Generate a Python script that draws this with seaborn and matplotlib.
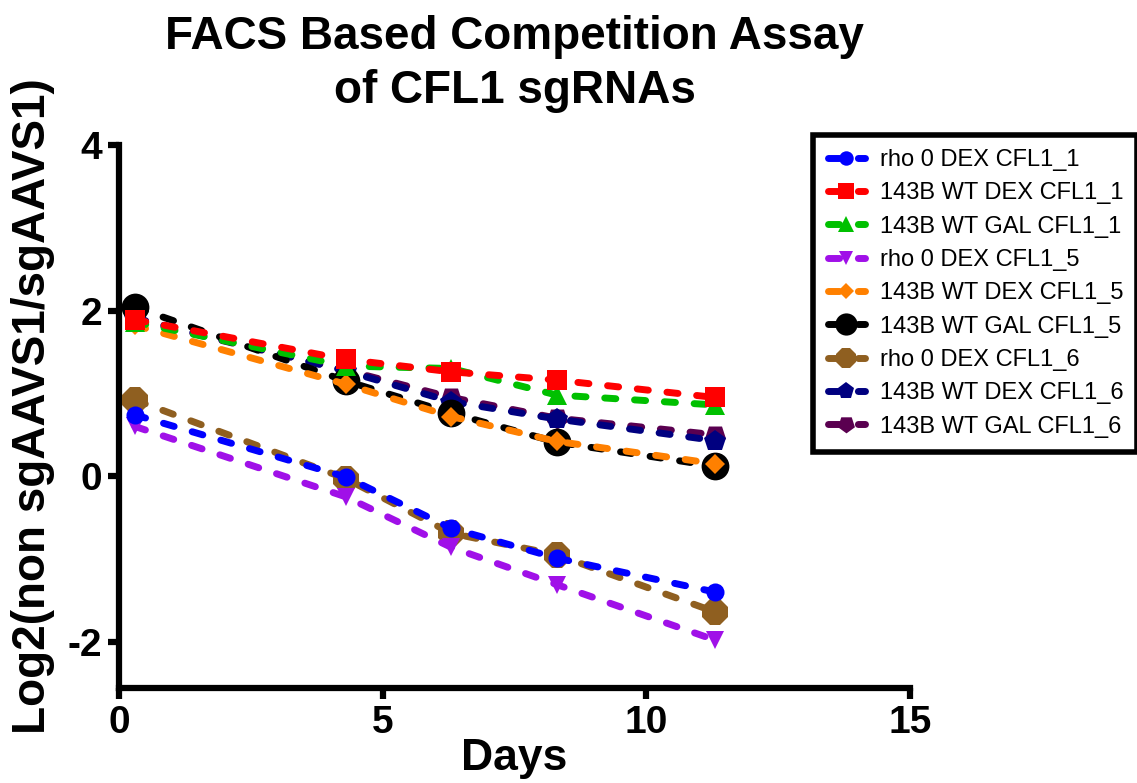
import numpy as np
import pandas as pd
import matplotlib
matplotlib.use("Agg")
import matplotlib.pyplot as plt
import seaborn as sns

# ---- data ----
days = [0.3, 4.3, 6.3, 8.3, 11.3]
series_names = [
    "rho 0 DEX CFL1_1",
    "143B WT DEX CFL1_1",
    "143B WT GAL CFL1_1",
    "rho 0 DEX CFL1_5",
    "143B WT DEX CFL1_5",
    "143B WT GAL CFL1_5",
    "rho 0 DEX CFL1_6",
    "143B WT DEX CFL1_6",
    "143B WT GAL CFL1_6",
]
rho0_dex_1 = [0.74, -0.01, -0.63, -0.99, -1.40]
wt_dex_1 = [1.89, 1.41, 1.26, 1.16, 0.95]
wt_gal_1 = [1.86, 1.33, 1.30, 0.98, 0.86]
rho0_dex_5 = [0.60, -0.25, -0.86, -1.31, -1.98]
wt_dex_5 = [1.82, 1.11, 0.72, 0.42, 0.15]
wt_gal_5 = [2.04, 1.15, 0.76, 0.41, 0.12]
rho0_dex_6 = [0.92, -0.03, -0.69, -0.95, -1.64]
wt_dex_6 = [1.91, 1.27, 0.90, 0.69, 0.43]
wt_gal_6 = [1.89, 1.28, 0.95, 0.70, 0.50]
values = [rho0_dex_1, wt_dex_1, wt_gal_1, rho0_dex_5, wt_dex_5,
          wt_gal_5, rho0_dex_6, wt_dex_6, wt_gal_6]

colors = ["#0000FF", "#FF0000", "#00C000", "#A010E8", "#FF8000",
          "#000000", "#8F5F20", "#000080", "#5A0050"]
markers = ["o", "s", "^", "v", "D", "o", "8", "p", (5, 0, 180)]
msizes = [13, 14, 14, 13, 10, 20, 20, 16, 16]

x_ticks = [0, 5, 10, 15]
y_ticks = [-2, 0, 2, 4]

rows = []
for name, vals in zip(series_names, values):
    for d, v in zip(days, vals):
        rows.append({"Days": d, "value": v, "series": name})
df = pd.DataFrame(rows)

# ---- style ----
sns.set_style("ticks")
plt.rcParams["font.family"] = ["Liberation Sans", "DejaVu Sans"]
plt.rcParams["axes.unicode_minus"] = False
plt.rcParams["text.color"] = "black"
plt.rcParams["axes.labelcolor"] = "black"
plt.rcParams["xtick.color"] = "black"
plt.rcParams["ytick.color"] = "black"

fig = plt.figure(figsize=(11.37, 7.83), dpi=100)
ax = fig.add_axes([0.1047, 0.1213, 0.6956, 0.6935])

for i, name in enumerate(series_names):
    sub = df[df["series"] == name]
    sns.lineplot(data=sub, x="Days", y="value", ax=ax, color=colors[i],
                 marker=markers[i], markersize=msizes[i],
                 markeredgewidth=0, linewidth=5,
                 linestyle=(0, (1.6, 2.7)), dash_capstyle="round",
                 errorbar=None, label=name, zorder=20 - i)

ax.set_xlim(0, 15)
ax.set_ylim(-2.56, 4)
ax.set_xticks(x_ticks)
ax.set_yticks(y_ticks)
ax.set_xticklabels([str(t) for t in x_ticks])
ax.set_yticklabels([str(t) for t in y_ticks])
for s in ["top", "right"]:
    ax.spines[s].set_visible(False)
for s in ["left", "bottom"]:
    ax.spines[s].set_linewidth(4.5)
    ax.spines[s].set_color("black")
ax.tick_params(axis="both", length=8, width=4.5, color="black",
               labelcolor="black", labelsize=28, pad=4)
for lab in ax.get_xticklabels() + ax.get_yticklabels():
    lab.set_fontweight("bold")

ax.set_xlabel("Days", fontsize=32, fontweight="bold", labelpad=-2,
              color="black")
ax.set_ylabel("Log2(non sgAAVS1/sgAAVS1)", fontsize=33, fontweight="bold",
              labelpad=6, color="black")
ax.yaxis.set_label_coords(-0.081, 0.52)
ax.set_title("FACS Based Competition Assay\nof CFL1 sgRNAs", fontsize=33,
             fontweight="bold", pad=30, linespacing=1.3, color="black")

handles, labels = ax.get_legend_handles_labels()
ax.get_legend().remove()
leg = fig.legend(handles, labels, loc="upper left",
                 bbox_to_anchor=(0.705, 0.843), fontsize=17,
                 frameon=True, fancybox=False, framealpha=1,
                 handlelength=1.6, handletextpad=0.6, labelspacing=0.48,
                 borderpad=0.6, markerscale=0.8)
leg.get_frame().set_linewidth(4)
leg.get_frame().set_edgecolor("black")
for t in leg.get_texts():
    t.set_color("black")

fig.savefig("out.png", dpi=100)
